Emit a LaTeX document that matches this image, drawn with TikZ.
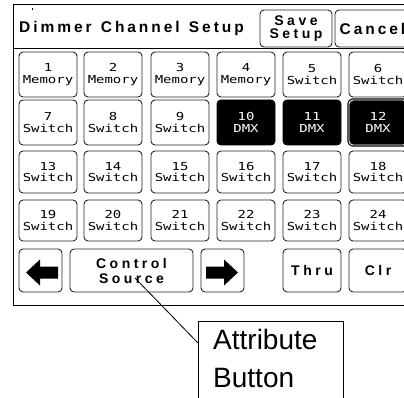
\documentclass[tikz,border=0pt]{standalone}
\usepackage{fontspec}
\setmainfont{Liberation Sans}
\newfontfamily\titlefont[LetterSpace=19]{Liberation Sans}
\newfontfamily\btnfont[LetterSpace=25]{Liberation Sans}
\newfontfamily\pixfont[FakeStretch=1.27]{DejaVu Sans Mono}
\begin{document}
\begin{tikzpicture}[x=1pt,y=-1pt,
  btn/.style={draw=black!85, line width=0.9pt, rounded corners=4pt, inner sep=0pt, fill=white},
  cell/.style={btn, minimum width=58pt, align=center, font=\pixfont\fontsize{11}{11.4}\selectfont},
  dmx/.style={fill=black, text=white, draw=black},
  sel/.style={dmx, double=white, line width=1.2pt, double distance=0.9pt},
  bold/.style={font=\btnfont\bfseries\fontsize{14}{14}\selectfont, align=center},
  frame/.style={draw=black, line width=0.9pt}]
\useasboundingbox (0,0) rectangle (404,398);
\clip (0,0) rectangle (404,398);
% outer frame and header rule
\draw[frame] (13,4) rectangle (420,305);
\draw[frame] (13,48) -- (420,48);
\fill (31.5,8.5) rectangle (33,10);
% title
\node[anchor=base west, inner sep=0pt, font=\titlefont\bfseries\fontsize{15.5}{18}\selectfont] (title) at (19,33) {Dimmer\hspace{2pt} Channel\hspace{2pt} Setup};
% header buttons
\node[btn, bold, minimum width=72pt, minimum height=37pt] (save) at (296,28.5) {Save\\[-1pt]Setup};
\node[btn, minimum width=75pt, minimum height=37pt, font=\titlefont\bfseries\fontsize{15.5}{18}\selectfont] (cancel) at (372.5,28.5) {Cancel};
% channel grid
\foreach \n/\lab/\cx/\cy/\h/\st in {
  1/Memory/48/74.5/45/cell, 2/Memory/113/74.5/45/cell, 3/Memory/180/74.5/45/cell,
  4/Memory/246/74.5/45/cell, 5/Switch/312/74.5/45/cell, 6/Switch/378/74.5/45/cell,
  7/Switch/48/122.5/45/cell, 8/Switch/113/122.5/45/cell, 9/Switch/180/122.5/45/cell,
  10/DMX/246/122.5/45/dmx, 11/DMX/312/122.5/45/dmx, 12/DMX/378/122.5/45/sel,
  13/Switch/48/172/42/cell, 14/Switch/113/172/42/cell, 15/Switch/180/172/42/cell,
  16/Switch/246/172/42/cell, 17/Switch/312/172/42/cell, 18/Switch/378/172/42/cell,
  19/Switch/48/220.5/41/cell, 20/Switch/113/220.5/41/cell, 21/Switch/180/220.5/41/cell,
  22/Switch/246/220.5/41/cell, 23/Switch/312/220.5/41/cell, 24/Switch/378/220.5/41/cell}
  \node[cell, \st, minimum height=\h pt] (c\n) at (\cx,\cy) {\n\\\lab};
% bottom row
\node[btn, minimum width=43pt, minimum height=43pt] (left) at (40.5,270.5) {};
\node[btn, bold, minimum width=123pt, minimum height=43pt] (ctrl) at (131.5,270.5) {Control\\[1pt]Source};
\node[btn, minimum width=43pt, minimum height=43pt] (right) at (222.5,270.5) {};
\node[btn, bold, minimum width=58pt, minimum height=43pt] (thru) at (312,270.5) {Thru};
\node[btn, bold, minimum width=58pt, minimum height=43pt] (clr) at (378,270.5) {Clr};
% arrows
\fill (26,272.5) -- (40,259.5) -- (40,266.5) -- (58,266.5) -- (58,278.5) -- (40,278.5) -- (40,285.5) -- cycle;
\fill (238,272.5) -- (224,259.5) -- (224,266.5) -- (206,266.5) -- (206,278.5) -- (224,278.5) -- (224,285.5) -- cycle;
% callout
\node[draw=black, line width=0.8pt, fill=white, anchor=north west, minimum width=145pt, minimum height=100pt, inner sep=0pt] (attr) at (198,321) {};
\node[anchor=base west, inner sep=0pt, font=\fontsize{28}{34}\selectfont] (attr1) at (213,349) {Attribute};
\node[anchor=base west, inner sep=0pt, font=\fontsize{28}{34}\selectfont] (attr2) at (213,387) {Button};
\coordinate (lead) at (135,278);
\draw[line width=0.8pt] (lead) -- ([yshift=-22pt]attr.north west);
\end{tikzpicture}
\end{document}
